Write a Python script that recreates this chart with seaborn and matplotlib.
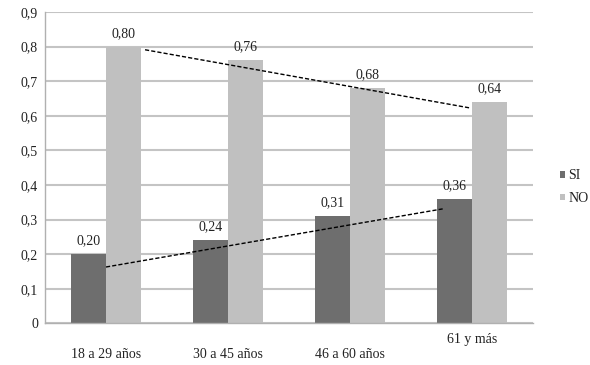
import matplotlib
matplotlib.use("Agg")
import matplotlib.pyplot as plt
from matplotlib.patches import Patch
import seaborn as sns
import pandas as pd

# data
groups = ["18 a 29 años", "30 a 45 años", "46 a 60 años", "61 y más"]
si = [0.20, 0.24, 0.31, 0.36]
no = [0.80, 0.76, 0.68, 0.64]
si_labels = ["0,20", "0,24", "0,31", "0,36"]
no_labels = ["0,80", "0,76", "0,68", "0,64"]
# dashed trend lines (category position, value at start and end)
si_trend_x = [0.0, 2.76]
si_trend_y = [0.163, 0.331]
no_trend_x = [0.32, 2.98]
no_trend_y = [0.791, 0.623]
yticks = [0, 0.1, 0.2, 0.3, 0.4, 0.5, 0.6, 0.7, 0.8, 0.9]
ytick_labels = ["0", "0,1", "0,2", "0,3", "0,4", "0,5", "0,6", "0,7", "0,8", "0,9"]
colors = {"SI": "#6e6e6e", "NO": "#c0c0c0"}

df = pd.DataFrame({
    "grupo": groups * 2,
    "valor": si + no,
    "serie": ["SI"] * 4 + ["NO"] * 4,
})

sns.set_style("white")
plt.rcParams["font.family"] = ["Liberation Serif", "DejaVu Serif"]

fig = plt.figure(figsize=(5.9, 3.65), dpi=100)
ax = fig.add_axes([0.0763, 0.114, 0.827, 0.853])

sns.barplot(data=df, x="grupo", y="valor", hue="serie", palette=colors,
            width=0.57, gap=0, saturation=1, ax=ax, legend=False,
            edgecolor="none", linewidth=0)

ax.bar_label(ax.containers[0], labels=si_labels, padding=5, fontsize=10, color="#222222")
ax.bar_label(ax.containers[1], labels=no_labels, padding=5, fontsize=10, color="#222222")

ax.plot(si_trend_x, si_trend_y, color="black", lw=1, dashes=(3, 1.5))
ax.plot(no_trend_x, no_trend_y, color="black", lw=1, dashes=(3, 1.5))

ax.set_xlim(-0.5, 3.5)
ax.set_ylim(0, 0.9)
ax.set_yticks(yticks)
ax.set_yticklabels(ytick_labels)
ax.yaxis.grid(True, color="#c4c4c4", lw=1.5)
ax.set_axisbelow(True)
ax.set_xlabel("")
ax.set_ylabel("")

for s in ["top", "right"]:
    ax.spines[s].set_visible(False)
for s in ["left", "bottom"]:
    ax.spines[s].set_color("#b0b0b0")
    ax.spines[s].set_linewidth(1)

ax.tick_params(axis="y", length=0, pad=5, labelsize=10, labelcolor="#222222")
ax.tick_params(axis="x", which="major", length=0, pad=18, labelsize=10, labelcolor="#222222")
ax.set_xticks([0.5, 1.5, 2.5], minor=True)
ax.tick_params(axis="x", which="minor", length=3, color="#b0b0b0", direction="out")
ax.xaxis.get_major_ticks()[3].set_pad(7)

handles = [Patch(facecolor=colors[k], edgecolor="none") for k in ["SI", "NO"]]
leg = fig.legend(handles, ["SI", "NO"], loc="center left", bbox_to_anchor=(0.928, 0.487),
                 frameon=False, fontsize=10, handlelength=0.35, handleheight=0.35,
                 handletextpad=0.25, labelspacing=0.7)
for t in leg.get_texts():
    t.set_color("#222222")

fig.savefig("out.png", dpi=100, facecolor="white")
